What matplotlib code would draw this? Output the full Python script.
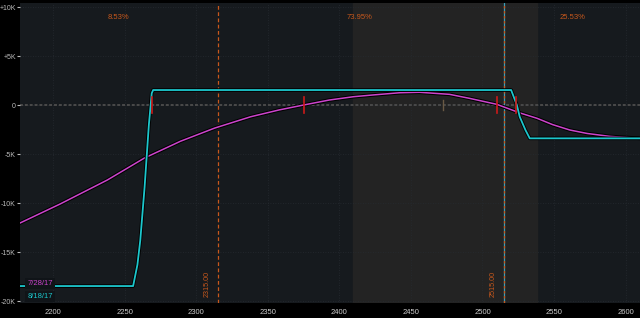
import matplotlib
matplotlib.use("Agg")
import matplotlib.pyplot as plt
import matplotlib.patheffects as pe

# ---- data ----
exp_prices = [2177, 2256, 2259, 2261, 2264, 2267, 2269, 2270, 2520, 2524, 2526, 2530, 2533, 2610]
exp_values = [-18.47, -18.47, -16.3, -13.8, -8.4, -2.0, 1.2, 1.53, 1.53, 0.0, -1.2, -2.55, -3.4, -3.4]

t0_prices = [2177, 2205, 2238, 2264, 2289, 2313, 2338, 2358, 2375, 2393, 2410, 2423, 2442, 2456,
             2477, 2491, 2510, 2526, 2538, 2549, 2561, 2573, 2589, 2610]
t0_values = [-12.04, -10.1, -7.65, -5.4, -3.7, -2.35, -1.2, -0.5, 0.0, 0.51, 0.85, 1.02, 1.25, 1.3,
             1.09, 0.68, 0.07, -0.8, -1.35, -2.0, -2.55, -2.9, -3.2, -3.4]

red_marks = [2269, 2375.3, 2510, 2523.7]
gray_marks = [2472.3]

shade_range = (2409.5, 2538)
strike_lines = [2315, 2515]
strike_labels = ["2315.00", "2515.00"]

pct_labels = ["8.53%", "73.95%", "25.53%"]
pct_pos = [2246, 2414, 2563]

legend_labels = ["7/28/17", "8/18/17"]

xticks = [2200, 2250, 2300, 2350, 2400, 2450, 2500, 2550, 2600]
yticks = [10, 5, 0, -5, -10, -15, -20]
ytick_labels = ["+10K", "+5K", "0", "-5K", "-10K", "-15K", "-20K"]

# ---- style ----
BG = "#000000"
PANEL = "#161a1e"
SHADE = "#232323"
ORANGE = "#c8581c"
CYAN = "#1cc6cc"
MAGENTA = "#cc44cc"
FONT = ["Liberation Sans", "DejaVu Sans"]

fig = plt.figure(figsize=(6.4, 3.18), dpi=100, facecolor=BG)
ax = fig.add_axes([20/640, 15/318, 620/640, 300/318])
ax.set_facecolor(PANEL)
ax.set_xlim(2177, 2610)
ax.set_ylim(-20.2, 10.41)

ax.axvspan(*shade_range, color=SHADE, zorder=0)

for x in xticks:
    ax.axvline(x, color="#262b31", lw=0.6, ls=(0, (1, 2)), zorder=0.5)
for y in yticks:
    ax.axhline(y, color="#262b31", lw=0.6, ls=(0, (1, 2)), zorder=0.5)

ax.axhline(0, color="#4a4a4a", lw=1.4, ls=(0, (1.5, 1)), zorder=1)

# strike lines
ax.axvline(strike_lines[0], color=ORANGE, lw=0.9, ls=(0, (3, 2)), zorder=2)
ax.axvline(strike_lines[1], color="#3a9fb8", lw=0.9, zorder=2)
ax.axvline(strike_lines[1], color=ORANGE, lw=0.9, ls=(0, (2, 2)), zorder=2.1)
for x, lab in zip(strike_lines, strike_labels):
    ax.text(x - 7.5, -19.6, lab, rotation=90, color=ORANGE, fontsize=5.2, family=FONT,
            ha="center", va="bottom", zorder=5)

for lab, x in zip(pct_labels, pct_pos):
    ax.text(x, 8.95, lab, color=ORANGE, fontsize=5.5, family=FONT,
            ha="center", va="center", zorder=5)

shadow = [pe.Stroke(linewidth=2.6, foreground="#000000"), pe.Normal()]
ax.plot(t0_prices, t0_values, color=MAGENTA, lw=1.1, zorder=3, path_effects=shadow)
ax.plot(exp_prices, exp_values, color=CYAN, lw=1.3, zorder=4, path_effects=shadow)

for x in red_marks:
    ax.plot([x, x], [-0.8, 0.85], color="#cc1a1a", lw=1.2, zorder=5)
for x in gray_marks:
    ax.plot([x, x], [-0.5, 0.5], color="#6a5a45", lw=1.0, zorder=5)

# legend boxes
ax.text(2182, -18.2, legend_labels[0], color=MAGENTA, fontsize=5.5, family=FONT,
        ha="left", va="center", zorder=6,
        bbox=dict(boxstyle="square,pad=0.25", fc="#101418", ec="none"))
ax.text(2182, -19.5, legend_labels[1], color=CYAN, fontsize=5.5, family=FONT,
        ha="left", va="center", zorder=6,
        bbox=dict(boxstyle="square,pad=0.25", fc="#101418", ec="none"))

ax.set_xticks(xticks)
ax.set_xticklabels([str(x) for x in xticks], family=FONT)
ax.set_yticks(yticks)
ax.set_yticklabels(ytick_labels, family=FONT)
ax.tick_params(axis="x", colors="#cccccc", labelsize=5.5, length=0, pad=4)
ax.tick_params(axis="y", colors="#bbbbbb", labelsize=5, length=2, width=0.8, pad=1)
for s in ax.spines.values():
    s.set_visible(False)

fig.savefig("out.png", dpi=100, facecolor=BG)
